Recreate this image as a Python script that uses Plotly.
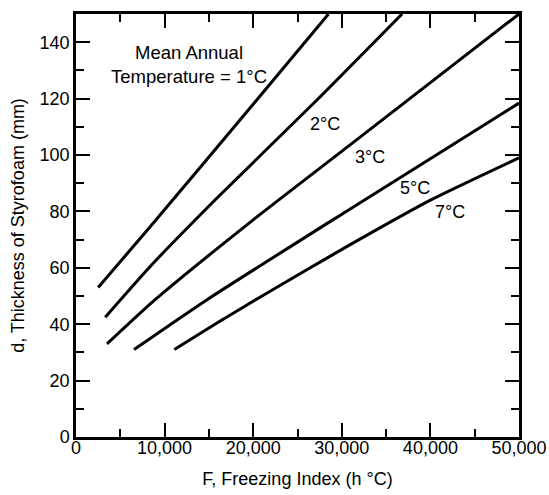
import plotly.graph_objects as go

# Freezing index (h °C) and Styrofoam thickness (mm) per mean annual temperature
t1_x = [2500, 8350, 20400, 28500]
t1_y = [53, 74.5, 119.5, 150]
t2_x = [3300, 8350, 16000, 27200, 36800]
t2_y = [42.5, 60.4, 85, 119.5, 150]
t3_x = [3500, 8900, 20000, 30900, 50000]
t3_y = [33, 48.6, 77, 103.5, 150]
t5_x = [6550, 14750, 30500, 50000]
t5_y = [31, 48.6, 80, 118.4]
t7_x = [11100, 16000, 21000, 26000, 31000, 40000, 50000]
t7_y = [31, 40.6, 50, 59.2, 68.3, 84, 99]

series = [(t1_x, t1_y), (t2_x, t2_y), (t3_x, t3_y), (t5_x, t5_y), (t7_x, t7_y)]

label_text = ["2°C", "3°C", "5°C", "7°C"]
label_x = [28100, 33180, 38260, 42210]
label_y = [110.9, 99.3, 88.3, 79.7]

x_ticks = [0, 10000, 20000, 30000, 40000, 50000]
y_ticks = [0, 20, 40, 60, 80, 100, 120, 140]

FONT = "Liberation Sans, Arial, Helvetica, sans-serif"

fig = go.Figure()
for xs, ys in series:
    fig.add_trace(go.Scatter(x=xs, y=ys, mode="lines",
                             line=dict(color="black", width=3,
                                       shape="spline", smoothing=0.6),
                             showlegend=False, hoverinfo="skip"))

for t, x, y in zip(label_text, label_x, label_y):
    fig.add_annotation(x=x, y=y, text=t, showarrow=False,
                       font=dict(family=FONT, size=18, color="black"))

fig.add_annotation(x=12700, y=132, text="Mean Annual<br>Temperature = 1°C",
                   showarrow=False, align="center",
                   font=dict(family=FONT, size=18.5, color="black"))

axis_common = dict(
    showgrid=False, zeroline=False, showline=True, linecolor="black",
    linewidth=2.5, mirror="ticks", ticks="inside", ticklen=14, tickwidth=2,
    tickcolor="black", tickfont=dict(family=FONT, size=18, color="black"),
    automargin=False,
)

fig.update_xaxes(range=[0, 50000], tickvals=x_ticks,
                 ticktext=[f"{v:,}" for v in x_ticks],
                 ticklabelstandoff=-7,
                 minor=dict(ticks="inside", dtick=5000, tick0=0, ticklen=8,
                            tickwidth=2, tickcolor="black"),
                 title=dict(text="F, Freezing Index (h °C)",
                            font=dict(family=FONT, size=18, color="black"),
                            standoff=16),
                 **axis_common)
fig.update_yaxes(range=[0, 150], tickvals=y_ticks,
                 minor=dict(ticks="inside", dtick=10, tick0=0, ticklen=8,
                            tickwidth=2, tickcolor="black"),
                 title=dict(text="d, Thickness of Styrofoam (mm)",
                            font=dict(family=FONT, size=18, color="black"),
                            standoff=11),
                 **axis_common)

fig.update_layout(width=549, height=495,
                  margin=dict(l=76, r=30, t=14, b=58),
                  plot_bgcolor="white", paper_bgcolor="white")

# remove the default page margin so the figure fills the window exactly
fig.write_html("out.html",
               config={"displayModeBar": False},
               post_script="document.body.style.margin='0';")
